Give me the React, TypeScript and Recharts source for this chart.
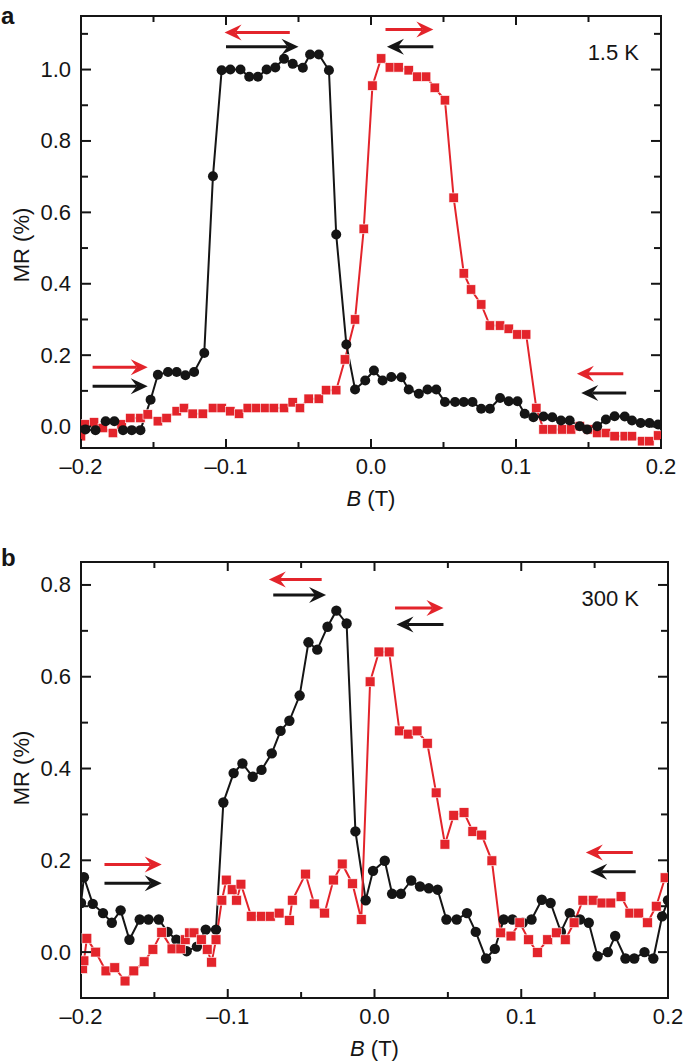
import React from 'react';
import { LineChart, Line, XAxis, YAxis, ReferenceLine } from 'recharts';

const RED = '#e3242b';
const BLACK = '#151515';
const FONT = '"Liberation Sans", Arial, Helvetica, sans-serif';
const FS = 22;

// panel a, 1.5 K — black circles
const aBlackB = [-0.197, -0.19, -0.183, -0.177, -0.171, -0.165, -0.159, -0.152, -0.147, -0.14, -0.134, -0.128, -0.122, -0.115, -0.109, -0.103, -0.097, -0.09, -0.084, -0.078, -0.072, -0.066, -0.06, -0.054, -0.047, -0.042, -0.036, -0.029, -0.024, -0.017, -0.011, -0.004, 0.002, 0.008, 0.014, 0.021, 0.026, 0.033, 0.039, 0.045, 0.051, 0.058, 0.064, 0.07, 0.076, 0.082, 0.089, 0.095, 0.101, 0.106, 0.112, 0.119, 0.125, 0.131, 0.137, 0.144, 0.149, 0.156, 0.162, 0.168, 0.175, 0.18, 0.186, 0.192, 0.198];
const aBlackMR = [-0.008, -0.01, 0.015, 0.015, -0.01, -0.01, -0.01, 0.075, 0.145, 0.153, 0.153, 0.144, 0.153, 0.206, 0.701, 0.998, 1.0, 1.0, 0.98, 0.98, 1.0, 1.006, 1.03, 1.016, 1.005, 1.042, 1.042, 0.998, 0.538, 0.23, 0.104, 0.129, 0.157, 0.129, 0.139, 0.138, 0.104, 0.092, 0.104, 0.104, 0.069, 0.069, 0.069, 0.069, 0.05, 0.05, 0.08, 0.071, 0.071, 0.036, 0.026, 0.028, 0.026, 0.017, 0.017, 0.001, -0.008, 0.001, 0.02, 0.029, 0.028, 0.017, 0.01, 0.01, 0.006];
// panel a — red squares
const aRedB = [-0.2, -0.197, -0.191, -0.185, -0.178, -0.172, -0.166, -0.159, -0.154, -0.147, -0.141, -0.134, -0.129, -0.123, -0.116, -0.109, -0.103, -0.097, -0.091, -0.085, -0.079, -0.073, -0.067, -0.06, -0.054, -0.049, -0.043, -0.036, -0.031, -0.024, -0.018, -0.011, -0.005, 0.001, 0.007, 0.013, 0.019, 0.026, 0.032, 0.038, 0.044, 0.051, 0.057, 0.064, 0.069, 0.076, 0.082, 0.089, 0.095, 0.101, 0.107, 0.114, 0.119, 0.125, 0.132, 0.138, 0.144, 0.15, 0.156, 0.162, 0.168, 0.175, 0.18, 0.187, 0.192, 0.198];
const aRedMR = [-0.027, 0.006, 0.012, -0.004, -0.018, 0.006, 0.024, 0.024, 0.034, 0.015, 0.024, 0.043, 0.052, 0.036, 0.036, 0.052, 0.052, 0.043, 0.036, 0.052, 0.052, 0.052, 0.052, 0.052, 0.068, 0.052, 0.078, 0.078, 0.102, 0.102, 0.188, 0.3, 0.554, 0.955, 1.031, 1.006, 1.006, 0.998, 0.98, 0.98, 0.949, 0.914, 0.641, 0.429, 0.384, 0.342, 0.283, 0.283, 0.274, 0.258, 0.258, 0.052, -0.008, -0.008, -0.008, -0.008, 0.001, -0.008, -0.018, -0.018, -0.027, -0.027, -0.027, -0.041, -0.041, -0.025];

// panel b, 300 K — black circles
const bBlackB = [-0.2, -0.198, -0.192, -0.185, -0.179, -0.173, -0.167, -0.16, -0.154, -0.147, -0.141, -0.135, -0.128, -0.121, -0.115, -0.108, -0.103, -0.096, -0.09, -0.083, -0.077, -0.07, -0.064, -0.058, -0.051, -0.045, -0.039, -0.032, -0.026, -0.019, -0.013, -0.006, -0.001, 0.007, 0.012, 0.018, 0.025, 0.031, 0.037, 0.043, 0.049, 0.056, 0.063, 0.069, 0.076, 0.082, 0.088, 0.094, 0.101, 0.107, 0.114, 0.12, 0.127, 0.133, 0.14, 0.146, 0.152, 0.159, 0.164, 0.171, 0.177, 0.184, 0.19, 0.196, 0.2];
const bBlackMR = [0.107, 0.163, 0.105, 0.085, 0.064, 0.091, 0.027, 0.071, 0.071, 0.071, 0.044, 0.027, 0.002, 0.012, 0.049, 0.049, 0.326, 0.39, 0.411, 0.382, 0.397, 0.433, 0.482, 0.504, 0.559, 0.675, 0.659, 0.709, 0.744, 0.716, 0.263, 0.113, 0.177, 0.199, 0.127, 0.127, 0.156, 0.143, 0.139, 0.136, 0.071, 0.071, 0.085, 0.044, -0.014, 0.007, 0.071, 0.071, 0.064, 0.071, 0.114, 0.107, 0.044, 0.085, 0.071, 0.064, -0.009, 0.0, 0.035, -0.014, -0.014, 0.0, -0.014, 0.078, 0.113];
// panel b — red squares
const bRedB = [-0.199, -0.198, -0.196, -0.19, -0.183, -0.177, -0.17, -0.164, -0.157, -0.151, -0.145, -0.138, -0.132, -0.129, -0.126, -0.123, -0.118, -0.114, -0.111, -0.108, -0.104, -0.101, -0.097, -0.094, -0.091, -0.084, -0.077, -0.071, -0.065, -0.058, -0.056, -0.047, -0.041, -0.034, -0.028, -0.022, -0.015, -0.009, -0.003, 0.003, 0.01, 0.017, 0.023, 0.029, 0.036, 0.042, 0.048, 0.054, 0.061, 0.067, 0.073, 0.08, 0.086, 0.093, 0.099, 0.105, 0.111, 0.118, 0.124, 0.13, 0.136, 0.142, 0.149, 0.155, 0.161, 0.168, 0.174, 0.18, 0.186, 0.192, 0.198];
const bRedMR = [-0.036, -0.019, 0.03, 0.0, -0.041, -0.034, -0.063, -0.041, -0.021, 0.006, 0.043, 0.007, 0.007, 0.027, 0.042, 0.042, 0.027, 0.006, -0.022, 0.027, 0.113, 0.157, 0.136, 0.113, 0.148, 0.078, 0.078, 0.078, 0.085, 0.069, 0.113, 0.17, 0.105, 0.085, 0.157, 0.192, 0.149, 0.071, 0.589, 0.654, 0.654, 0.482, 0.475, 0.482, 0.455, 0.347, 0.235, 0.298, 0.304, 0.263, 0.255, 0.199, 0.042, 0.035, 0.064, 0.027, -0.001, 0.027, 0.042, 0.027, 0.064, 0.113, 0.113, 0.107, 0.107, 0.121, 0.085, 0.085, 0.064, 0.1, 0.162];

const xTicks = [-0.2, -0.15, -0.1, -0.05, 0, 0.05, 0.1, 0.15, 0.2];
const aYTicks = [0, 0.1, 0.2, 0.3, 0.4, 0.5, 0.6, 0.7, 0.8, 0.9, 1.0, 1.1];
const bYTicks = [0, 0.1, 0.2, 0.3, 0.4, 0.5, 0.6, 0.7, 0.8];

// sweep-direction arrows, in data units: from B, to B, at MR
type Arrow = { from: number; to: number; y: number; red: boolean };
const aArrows: Arrow[] = [
  { from: -0.056, to: -0.101, y: 1.104, red: true },
  { from: -0.1, to: -0.05, y: 1.064, red: false },
  { from: 0.01, to: 0.043, y: 1.112, red: true },
  { from: 0.043, to: 0.011, y: 1.064, red: false },
  { from: -0.192, to: -0.154, y: 0.166, red: true },
  { from: -0.192, to: -0.154, y: 0.113, red: false },
  { from: 0.174, to: 0.142, y: 0.148, red: true },
  { from: 0.176, to: 0.145, y: 0.094, red: false },
];
const bArrows: Arrow[] = [
  { from: -0.036, to: -0.072, y: 0.812, red: true },
  { from: -0.069, to: -0.033, y: 0.778, red: false },
  { from: 0.014, to: 0.047, y: 0.75, red: true },
  { from: 0.047, to: 0.015, y: 0.714, red: false },
  { from: -0.184, to: -0.145, y: 0.191, red: true },
  { from: -0.184, to: -0.145, y: 0.15, red: false },
  { from: 0.176, to: 0.144, y: 0.217, red: true },
  { from: 0.178, to: 0.147, y: 0.175, red: false },
];

type Pt = { x: number; y: number };
const zip = (xs: number[], ys: number[]): Pt[] => xs.map((x, i) => ({ x, y: ys[i] }));

const isMajor = (v: number) => Math.abs(v * 5 - Math.round(v * 5)) < 1e-6;
const isMajorX = (v: number) => Math.abs(v * 10 - Math.round(v * 10)) < 1e-6;
const fmt = (v: number) => (Math.abs(v) < 1e-9 ? 0 : v).toFixed(1).replace('-', '\u2013');

const txt = { fontFamily: FONT, fontSize: FS, fill: BLACK };

const BottomTick = (p: any) => {
  const v = p.payload.value;
  const major = isMajorX(v);
  return (
    <g>
      <line x1={p.x} y1={p.y} x2={p.x} y2={p.y - (major ? 9 : 6)} stroke={BLACK} strokeWidth={2} />
      {major && (
        <text x={p.x} y={p.y + 18} textAnchor="middle" dominantBaseline="central" {...txt}>
          {fmt(v)}
        </text>
      )}
    </g>
  );
};
const TopTick = (p: any) => {
  const major = isMajorX(p.payload.value);
  return <line x1={p.x} y1={p.y} x2={p.x} y2={p.y + (major ? 9 : 6)} stroke={BLACK} strokeWidth={2} />;
};
const LeftTick = (p: any) => {
  const v = p.payload.value;
  const major = isMajor(v);
  return (
    <g>
      <line x1={p.x} y1={p.y} x2={p.x + (major ? 10 : 7)} y2={p.y} stroke={BLACK} strokeWidth={2} />
      {major && (
        <text x={p.x - 10} y={p.y} textAnchor="end" dominantBaseline="central" {...txt}>
          {fmt(v)}
        </text>
      )}
    </g>
  );
};
const RightTick = (p: any) => {
  const major = isMajor(p.payload.value);
  return <line x1={p.x} y1={p.y} x2={p.x - (major ? 10 : 7)} y2={p.y} stroke={BLACK} strokeWidth={2} />;
};

const arrowShape = (color: string) => (p: any) => {
  const { x1, x2, y1 } = p;
  const d = x2 > x1 ? 1 : -1;
  const head = `${x2},${y1} ${x2 - d * 17},${y1 - 8} ${x2 - d * 11},${y1} ${x2 - d * 17},${y1 + 8}`;
  return (
    <g>
      <line x1={x1} y1={y1} x2={x2 - d * 11} y2={y1} stroke={color} strokeWidth={3} />
      <polygon points={head} fill={color} />
    </g>
  );
};

type Box = { left: number; right: number; top: number; bottom: number };

interface PanelProps {
  letter: string;
  temp: string;
  height: number;
  plot: Box;
  yDomain: [number, number];
  yTicks: number[];
  black: Pt[];
  red: Pt[];
  redOnTop: boolean;
  arrows: Arrow[];
  dotR: number;
  sq: number;
  mrY: number;
  letterY: number;
  tempDx: number;
}

const W = 685;
const X_AXIS_H = 40;
const Y_AXIS_W = 40;

const Panel: React.FC<PanelProps> = (props) => {
  const { plot, height } = props;
  const { left, right, top, bottom } = plot;
  const margin = {
    top: top - 1,
    right: W - right - 1,
    bottom: height - bottom - X_AXIS_H,
    left: left - Y_AXIS_W,
  };
  const axisLine = { stroke: BLACK, strokeWidth: 2, strokeLinecap: 'square' as const };

  const xLabel = () => (
    <text x={(left + right) / 2} y={bottom + 50} textAnchor="middle" dominantBaseline="central" {...txt}>
      <tspan fontStyle="italic">B</tspan>
      <tspan> (T)</tspan>
    </text>
  );
  const leftLabel = () => (
    <g>
      <text x={1} y={props.letterY} {...txt} fontSize={24} fontWeight="bold">
        {props.letter}
      </text>
      <text
        x={21}
        y={props.mrY}
        transform={`rotate(-90, 21, ${props.mrY})`}
        textAnchor="middle"
        dominantBaseline="central"
        {...txt}
      >
        MR (%)
      </text>
    </g>
  );
  const tempLabel = () => (
    <text x={right - props.tempDx} y={top + 36} textAnchor="end" dominantBaseline="central" {...txt}>
      {props.temp}
    </text>
  );

  const blackLine = (
    <Line
      key="black"
      data={props.black}
      dataKey="y"
      type="linear"
      stroke={BLACK}
      strokeWidth={2}
      isAnimationActive={false}
      activeDot={false}
      dot={(p: any) => <circle key={`c${p.index}`} cx={p.cx} cy={p.cy} r={props.dotR} fill={BLACK} />}
    />
  );
  const redLine = (
    <Line
      key="red"
      data={props.red}
      dataKey="y"
      type="linear"
      stroke={RED}
      strokeWidth={2}
      isAnimationActive={false}
      activeDot={false}
      dot={(p: any) => (
        <rect
          key={`s${p.index}`}
          x={p.cx - props.sq / 2}
          y={p.cy - props.sq / 2}
          width={props.sq}
          height={props.sq}
          fill={RED}
          stroke="#fff"
          strokeWidth={0.6}
        />
      )}
    />
  );

  return (
    <LineChart width={W} height={height} margin={margin}>
      <XAxis
        xAxisId={0}
        dataKey="x"
        type="number"
        domain={[-0.2, 0.2]}
        allowDataOverflow
        ticks={xTicks}
        interval={0}
        height={X_AXIS_H}
        tickSize={0}
        tickMargin={0}
        tickLine={false}
        axisLine={axisLine}
        tick={BottomTick}
        label={xLabel}
      />
      <XAxis
        xAxisId="top"
        orientation="top"
        dataKey="x"
        type="number"
        domain={[-0.2, 0.2]}
        allowDataOverflow
        ticks={xTicks}
        interval={0}
        height={1}
        tickSize={0}
        tickMargin={0}
        tickLine={false}
        axisLine={axisLine}
        tick={TopTick}
      />
      <YAxis
        yAxisId={0}
        type="number"
        domain={props.yDomain}
        allowDataOverflow
        ticks={props.yTicks}
        interval={0}
        width={Y_AXIS_W}
        tickSize={0}
        tickMargin={0}
        tickLine={false}
        axisLine={axisLine}
        tick={LeftTick}
        label={leftLabel}
      />
      <YAxis
        yAxisId="right"
        orientation="right"
        type="number"
        domain={props.yDomain}
        allowDataOverflow
        ticks={props.yTicks}
        interval={0}
        width={1}
        tickSize={0}
        tickMargin={0}
        tickLine={false}
        axisLine={axisLine}
        tick={RightTick}
        label={tempLabel}
      />
      {props.arrows.map((a, i) => (
        <ReferenceLine
          key={`ar${i}`}
          segment={[
            { x: a.from, y: a.y },
            { x: a.to, y: a.y },
          ]}
          ifOverflow="visible"
          shape={arrowShape(a.red ? RED : BLACK)}
        />
      ))}
      {props.redOnTop ? [blackLine, redLine] : [redLine, blackLine]}
    </LineChart>
  );
};

export default function App() {
  return (
    <div style={{ position: 'absolute', left: 0, top: 0, width: W, height: 1062, background: '#fff' }}>
      <div style={{ position: 'absolute', left: 0, top: 0 }}>
        <Panel
          letter="a"
          temp="1.5 K"
          height={530}
          plot={{ left: 81, right: 661, top: 16, bottom: 448 }}
          yDomain={[-0.06, 1.15]}
          yTicks={aYTicks}
          black={zip(aBlackB, aBlackMR)}
          red={zip(aRedB, aRedMR)}
          redOnTop={false}
          arrows={aArrows}
          dotR={5}
          sq={9.4}
          mrY={245}
          letterY={24}
          tempDx={22}
        />
      </div>
      <div style={{ position: 'absolute', left: 0, top: 530 }}>
        <Panel
          letter="b"
          temp="300 K"
          height={532}
          plot={{ left: 81, right: 668, top: 32, bottom: 468 }}
          yDomain={[-0.1, 0.85]}
          yTicks={bYTicks}
          black={zip(bBlackB, bBlackMR)}
          red={zip(bRedB, bRedMR)}
          redOnTop={true}
          arrows={bArrows}
          dotR={5.2}
          sq={9.8}
          mrY={238}
          letterY={36}
          tempDx={29}
        />
      </div>
    </div>
  );
}
